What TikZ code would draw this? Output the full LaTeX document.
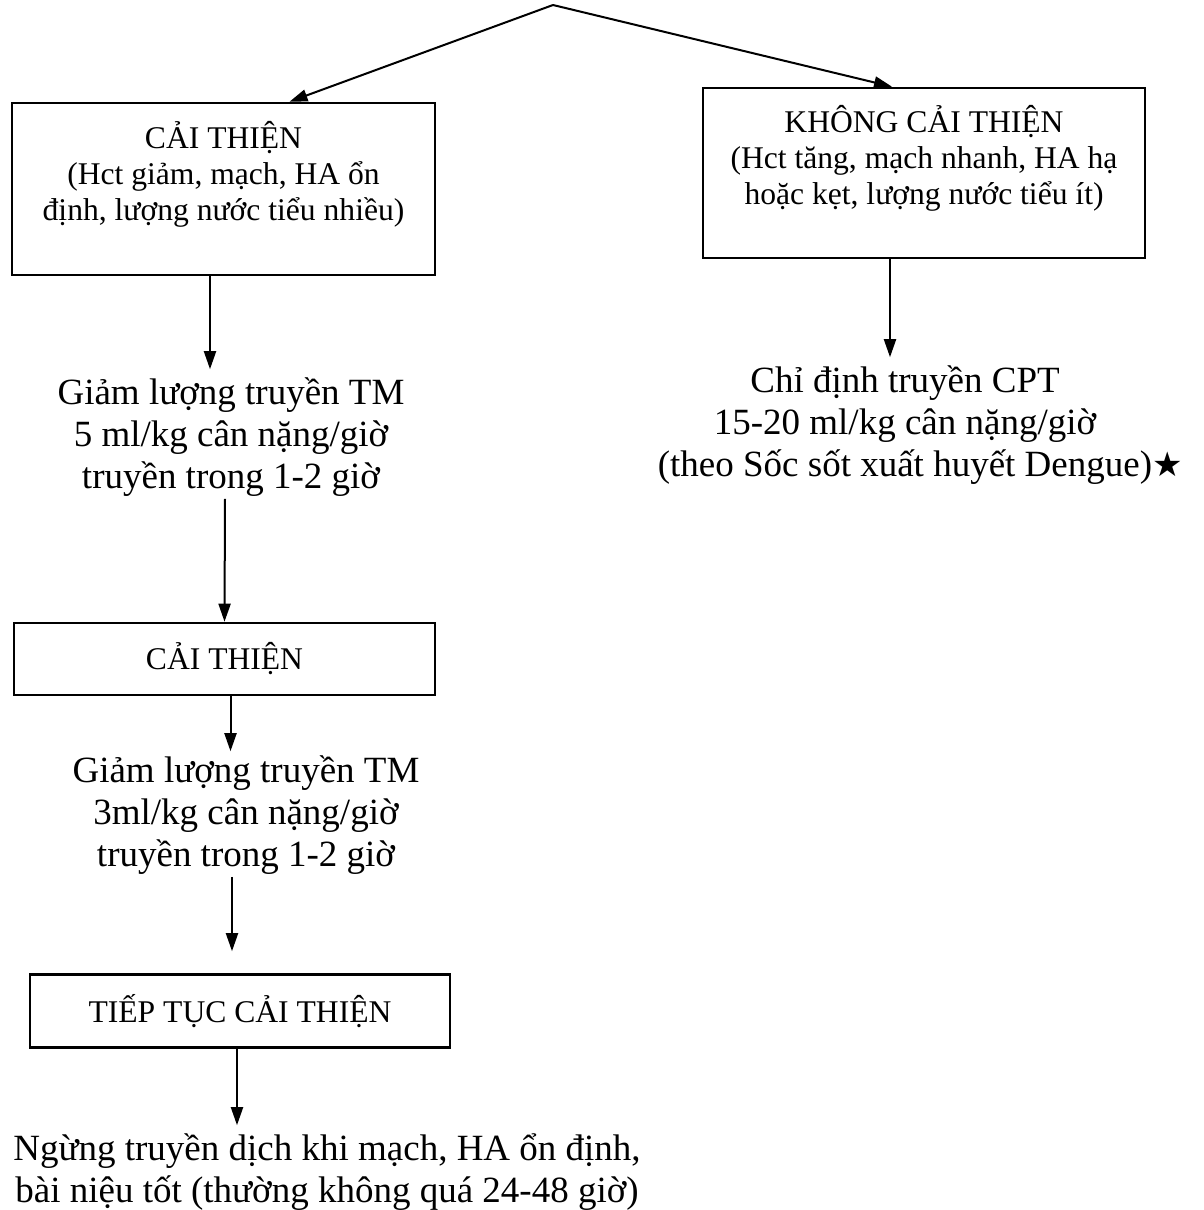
\documentclass[tikz,border=0pt]{standalone}
\usepackage{fontspec}
\setmainfont{Liberation Serif}
\newfontfamily\symfont{DejaVu Sans}
\usetikzlibrary{arrows.meta}
\begin{document}
\begin{tikzpicture}[x=0.5pt,y=-0.5pt,
  boxnode/.style={draw, line width=1.3pt, inner sep=0pt, align=center,
    font=\fontsize{15.8}{18}\selectfont},
  txtnode/.style={inner sep=0pt, align=center, font=\fontsize{18.5}{21}\selectfont},
  arr/.style={line width=1pt, -{Triangle[length=9pt,width=6pt]}}]
\useasboundingbox (0,0) rectangle (1204,1210);
\coordinate (apex) at (553,5);
\node[boxnode, minimum width=211.5pt, minimum height=86pt] (b1) at (223.5,189)
  {CẢI THIỆN\\(Hct giảm, mạch, HA ổn\\định, lượng nước tiểu nhiều)\\~};
\node[boxnode, minimum width=221pt, minimum height=85pt] (b2) at (924,173)
  {KHÔNG CẢI THIỆN\\(Hct tăng, mạch nhanh, HA hạ\\hoặc kẹt, lượng nước tiểu ít)\\~};
\node[txtnode] (t1) at (231,437)
  {Giảm lượng truyền TM\\5 ml/kg cân nặng/giờ\\truyền trong 1-2 giờ};
\node[txtnode] (t2) at (905,425)
  {Chỉ định truyền CPT\\15-20 ml/kg cân nặng/giờ\\(theo Sốc sốt xuất huyết Dengue)\rlap{{\symfont\fontsize{17}{17}\selectfont ★}}};
\node[boxnode, minimum width=210.5pt, minimum height=36pt] (b3) at (224.5,659)
  {CẢI THIỆN};
\node[txtnode] (t3) at (246,815)
  {Giảm lượng truyền TM\\3ml/kg cân nặng/giờ\\truyền trong 1-2 giờ};
\node[boxnode, minimum width=210pt, minimum height=36.5pt] (b4) at (240,1011)
  {TIẾP TỤC CẢI THIỆN};
\node[txtnode] (t4) at (327,1172)
  {Ngừng truyền dịch khi mạch, HA ổn định,\\bài niệu tốt (thường không quá 24-48 giờ)};
\draw[arr] (apex) -- ([xshift=33pt]b1.north);
\draw[arr] (apex) -- ([xshift=-16pt]b2.north);
\draw[arr] ([xshift=-6.75pt]b1.south) -- ([xshift=-6.75pt,yshift=4pt]b1.south |- t1.north);
\draw[arr] ([xshift=-17pt]b2.south) -- ([xshift=-17pt,yshift=4pt]b2.south |- t2.north);
\draw[arr] ([xshift=-3pt,yshift=-1pt]t1.south) -- ([xshift=0pt]b3.north);
\draw[arr] ([xshift=3pt]b3.south) -- ([xshift=3pt,yshift=2pt]b3.south |- t3.north);
\draw[arr] ([xshift=-7pt,yshift=-1pt]t3.south) -- ([xshift=-4pt,yshift=11pt]b4.north);
\draw[arr] ([xshift=-1.5pt]b4.south) -- ([xshift=-1.5pt,yshift=4pt]b4.south |- t4.north);
\end{tikzpicture}
\end{document}
